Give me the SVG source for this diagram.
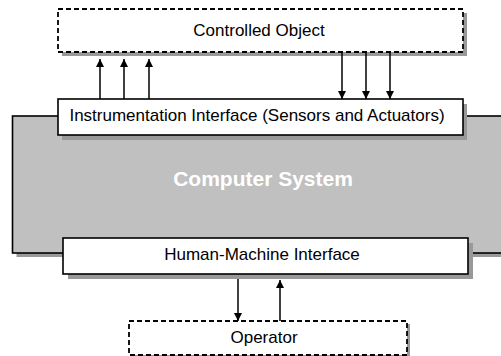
<svg xmlns="http://www.w3.org/2000/svg" width="501" height="356" viewBox="0 0 501 356">
<defs>
<style>
.shadow{fill:#999999;stroke:none}
.box{fill:#ffffff;stroke:#000;stroke-width:1.6}
.dash{fill:#ffffff;stroke:#000;stroke-width:1.8;stroke-dasharray:5 3}
.sys{fill:#c0c0c0;stroke:#000;stroke-width:1.6}
.lbl{font-family:"Liberation Sans",Arial,sans-serif;font-size:17px;fill:#000;text-anchor:middle}
.big{font-family:"Liberation Sans",Arial,sans-serif;font-size:21px;font-weight:bold;fill:#ffffff;text-anchor:middle}
.conn{stroke:#000;stroke-width:1.5;fill:none;marker-end:url(#ah)}
</style>
<marker id="ah" viewBox="0 0 10 10" refX="10" refY="5" markerWidth="10" markerHeight="8" markerUnits="userSpaceOnUse" orient="auto">
<path d="M0,0 L10,5 L0,10 Z" fill="#000"/>
</marker>
</defs>
<g id="computer-system">
<rect class="shadow" x="16.5" y="120" width="490" height="137"/>
<rect class="sys" x="12.5" y="116" width="495" height="137"/>
<text class="big" x="263" y="186">Computer System</text>
</g>
<g id="controlled-object">
<rect class="shadow" x="62" y="13" width="405" height="43"/>
<rect class="dash" x="58" y="9" width="405" height="43"/>
<text class="lbl" x="259" y="36">Controlled Object</text>
</g>
<g id="instrumentation-interface">
<rect class="shadow" x="62" y="104" width="405" height="36"/>
<rect class="box" x="58" y="99" width="405" height="36"/>
<text class="lbl" x="257" y="121">Instrumentation Interface (Sensors and Actuators)</text>
</g>
<g id="human-machine-interface">
<rect class="shadow" x="68" y="243" width="405" height="36"/>
<rect class="box" x="63" y="238" width="405" height="36"/>
<text class="lbl" x="262" y="260">Human-Machine Interface</text>
</g>
<g id="operator">
<rect class="shadow" x="132" y="324" width="278" height="34"/>
<rect class="dash" x="129" y="321" width="278" height="34"/>
<text class="lbl" x="264" y="343">Operator</text>
</g>
<g id="connectors">
<line class="conn" x1="100" y1="99" x2="100" y2="59"/>
<line class="conn" x1="124" y1="99" x2="124" y2="59"/>
<line class="conn" x1="149" y1="99" x2="149" y2="59"/>
<line class="conn" x1="342" y1="52" x2="342" y2="99"/>
<line class="conn" x1="366" y1="52" x2="366" y2="99"/>
<line class="conn" x1="390" y1="52" x2="390" y2="99"/>
<line class="conn" x1="238" y1="279" x2="238" y2="321"/>
<line class="conn" x1="280" y1="321" x2="280" y2="280"/>
</g>
</svg>
